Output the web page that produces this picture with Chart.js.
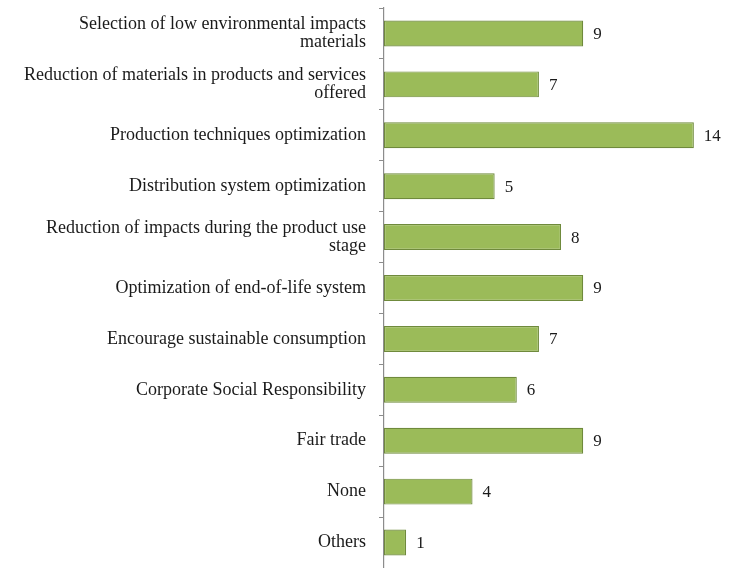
<!DOCTYPE html>
<html>
<head>
<meta charset="utf-8">
<script src="https://cdn.jsdelivr.net/npm/chart.js@4/dist/chart.umd.min.js"></script>
<style>
html,body{margin:0;padding:0;background:#fff;}
#wrap{width:731px;height:568px;position:relative;}
</style>
</head>
<body>
<div id="wrap"><canvas id="c" width="731" height="568"></canvas></div>
<script>
const categories = [
  ["Selection of low environmental impacts", "materials"],
  ["Reduction of materials in products and services", "offered"],
  "Production techniques optimization",
  "Distribution system optimization",
  ["Reduction of impacts during the product use", "stage"],
  "Optimization of end-of-life system",
  "Encourage sustainable consumption",
  "Corporate Social Responsibility",
  "Fair trade",
  "None",
  "Others"
];
const values = [9, 7, 14, 5, 8, 9, 7, 6, 9, 4, 1];

const FONT = "'Liberation Serif', 'Times New Roman', serif";

const valueLabels = {
  id: 'valueLabels',
  afterDatasetsDraw(chart) {
    const ctx = chart.ctx;
    const meta = chart.getDatasetMeta(0);
    ctx.save();
    ctx.font = "17px " + FONT;
    ctx.fillStyle = "#1a1a1a";
    ctx.textAlign = "left";
    ctx.textBaseline = "middle";
    meta.data.forEach((bar, i) => {
      ctx.fillText(String(values[i]), bar.x + 10, bar.y + 1);
    });
    ctx.restore();
  }
};

new Chart(document.getElementById('c'), {
  type: 'bar',
  data: {
    labels: categories,
    datasets: [{
      data: values,
      backgroundColor: '#9bbb59',
      borderColor: '#6f8a3c',
      borderWidth: 1.2,
      borderSkipped: false,
      categoryPercentage: 1.0,
      barPercentage: 0.51
    }]
  },
  options: {
    indexAxis: 'y',
    responsive: false,
    animation: false,
    layout: { padding: { top: 8, bottom: 0, left: 0, right: 15 } },
    plugins: { legend: { display: false }, tooltip: { enabled: false } },
    scales: {
      x: {
        display: false,
        min: 0,
        max: 15
      },
      y: {
        afterFit(scale) { scale.width = 384; scale.paddingTop = 0; scale.paddingBottom = 0; },
        grid: {
          offset: true,
          drawOnChartArea: false,
          drawTicks: true,
          tickLength: 5,
          color: '#8c8c8c'
        },
        border: { color: '#8c8c8c', width: 1.2 },
        ticks: {
          padding: 13,
          color: '#1a1a1a',
          font: { family: FONT, size: 18, lineHeight: 0.97 }
        }
      }
    }
  },
  plugins: [valueLabels]
});
</script>
</body>
</html>
